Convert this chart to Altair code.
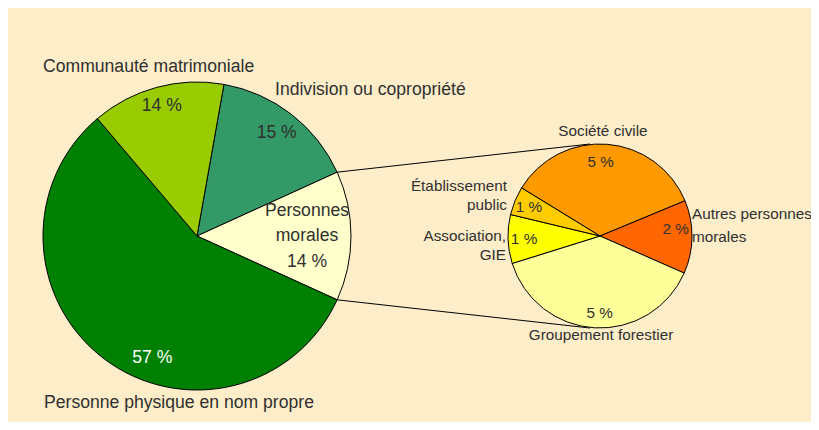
import math
import altair as alt
import pandas as pd

# ---------------- data ----------------
main_cats = ["Indivision ou copropriété", "Personnes morales",
             "Personne physique en nom propre", "Communauté matrimoniale"]
main_vals = [15.4, 13.6, 57.0, 14.0]
main_colors = ["#339966", "#ffffcc", "#008000", "#99cc00"]

sub_cats = ["Société civile", "Autres personnes morales", "Groupement forestier",
            "Association, GIE", "Établissement public"]
sub_vals = [4.9, 1.8, 5.4, 1.2, 0.7]
sub_colors = ["#ff9900", "#ff6600", "#ffff99", "#ffff00", "#ffcc00"]

# ---------------- layout ----------------
W, H = 803, 414
OX, OY = 8, 8
C1, R1 = (197, 236), 154
C2, R2 = (600, 236), 92
BREAK_IDX = 1                     # slice of main pie broken out
SUB_START = 301.5                 # degrees, clockwise from 12 o'clock
main_lab_r = [130, 110, 130, 135]
main_lab_off = [0, 0, -17, 0]
sub_lab_r = [74, 76, 77, 76, 77]
sub_lab_off = [-4, -6, -3, 0, 0]
FONT = "Liberation Sans, Arial, sans-serif"
FS1, FS2 = 17.6, 15.3
LH_PM = 25.5
TXT = "#303030"
BG = "#fdedc9"

xs = alt.Scale(domain=[OX, OX + W], nice=False, zero=False)
ys = alt.Scale(domain=[OY, OY + H], reverse=True, nice=False, zero=False)

tot1 = sum(main_vals)
main_start = 90 - (sum(main_vals[:BREAK_IDX]) + main_vals[BREAK_IDX] / 2) * 360 / tot1


def slice_angles(vals, start):
    tot = sum(vals)
    out, cum = [], start
    for v in vals:
        a = v / tot * 360
        out.append((cum, cum + a))
        cum += a
    return out


def pt(c, r, deg):
    t = math.radians(deg)
    return c[0] + r * math.sin(t), c[1] - r * math.cos(t)


main_ang = slice_angles(main_vals, main_start)
sub_ang = slice_angles(sub_vals, SUB_START)

df_main = pd.DataFrame({"cat": main_cats, "v": main_vals, "col": main_colors,
                        "i": range(len(main_vals))})
df_sub = pd.DataFrame({"cat": sub_cats, "v": sub_vals, "col": sub_colors,
                       "i": range(len(sub_vals))})


def pie(df, start_deg, c, r):
    a0 = math.radians(start_deg)
    return alt.Chart(df).mark_arc(radius=r, stroke="#000000", strokeWidth=1).encode(
        theta=alt.Theta("v:Q", stack=True,
                        scale=alt.Scale(range=[a0, a0 + 2 * math.pi])),
        color=alt.Color("col:N", scale=None),
        order=alt.Order("i:Q"),
        x=alt.X(datum=c[0], type="quantitative", scale=xs, axis=None),
        y=alt.Y(datum=c[1], type="quantitative", scale=ys, axis=None),
    )


# percent labels
rows = []
for k, (v, (a, b)) in enumerate(zip(main_vals, main_ang)):
    x, y = pt(C1, main_lab_r[k], (a + b) / 2 + main_lab_off[k])
    txt = f"{round(v)} %"
    if k == BREAK_IDX:
        txt = "Personnes\nmorales\n" + txt
        y -= LH_PM          # first line sits one line above the centre
    rows.append({"x": x, "y": y, "t": txt,
                 "tc": "#ffffff" if main_colors[k] == "#008000" else TXT, "grp": "main"})
for k, (v, (a, b)) in enumerate(zip(sub_vals, sub_ang)):
    x, y = pt(C2, sub_lab_r[k], (a + b) / 2 + sub_lab_off[k])
    rows.append({"x": x, "y": y, "t": f"{round(v)} %", "tc": TXT, "grp": "sub"})
df_pct = pd.DataFrame(rows)

# category labels outside (y = first line)
cat_left_main = pd.DataFrame({
    "x": [43, 275, 44], "y": [67, 90, 403],
    "t": [main_cats[3], main_cats[0], main_cats[2]]})
cat_center_sub = pd.DataFrame({"x": [603, 601], "y": [131, 335],
                               "t": [sub_cats[0], sub_cats[2]]})
cat_right_sub = pd.DataFrame({"x": [507, 506], "y": [186, 236],
                              "t": ["Établissement\npublic", "Association,\nGIE"]})
cat_left_sub = pd.DataFrame({"x": [692], "y": [214],
                             "t": ["Autres personnes\nmorales"]})

# connector lines
pa = pt(C1, R1, main_ang[BREAK_IDX][0])
pb = pt(C1, R1, main_ang[BREAK_IDX][1])
df_lines = pd.DataFrame({"x": [pa[0], pb[0]], "y": [pa[1], pb[1]],
                         "x2": [C2[0] - 10, C2[0] - 10],
                         "y2": [C2[1] - R2, C2[1] + R2]})


def enc_xy():
    return dict(x=alt.X("x:Q", scale=xs, axis=None),
                y=alt.Y("y:Q", scale=ys, axis=None))


lines = alt.Chart(df_lines).mark_rule(color="#000000", strokeWidth=1).encode(
    x2="x2:Q", y2="y2:Q", **enc_xy())

pct_main = alt.Chart(df_pct[df_pct.grp == "main"]).mark_text(
    font=FONT, fontSize=FS1, align="center", baseline="middle",
    lineBreak="\n", lineHeight=LH_PM).encode(
    text="t:N", color=alt.Color("tc:N", scale=None), **enc_xy())
pct_sub = alt.Chart(df_pct[df_pct.grp == "sub"]).mark_text(
    font=FONT, fontSize=FS2, align="center", baseline="middle").encode(
    text="t:N", color=alt.Color("tc:N", scale=None), **enc_xy())

lab1 = alt.Chart(cat_left_main).mark_text(
    font=FONT, fontSize=FS1, align="left", baseline="middle", color=TXT).encode(
    text="t:N", **enc_xy())
lab2 = alt.Chart(cat_center_sub).mark_text(
    font=FONT, fontSize=FS2, align="center", baseline="middle", color=TXT).encode(
    text="t:N", **enc_xy())
lab3 = alt.Chart(cat_right_sub).mark_text(
    font=FONT, fontSize=FS2, align="right", baseline="middle", color=TXT,
    lineBreak="\n", lineHeight=19).encode(text="t:N", **enc_xy())
lab4 = alt.Chart(cat_left_sub).mark_text(
    font=FONT, fontSize=FS2, align="left", baseline="middle", color=TXT,
    lineBreak="\n", lineHeight=23).encode(text="t:N", **enc_xy())

chart = alt.layer(
    lines,
    pie(df_main, main_start, C1, R1),
    pie(df_sub, SUB_START, C2, R2),
    pct_main, pct_sub, lab1, lab2, lab3, lab4,
).resolve_scale(theta="independent").properties(
    width=W, height=H, padding=0,
    autosize=alt.AutoSizeParams(type="none"),
    background=BG,
).configure_view(stroke=None)

chart.save("out.html", embed_options={"renderer": "svg", "actions": False})
